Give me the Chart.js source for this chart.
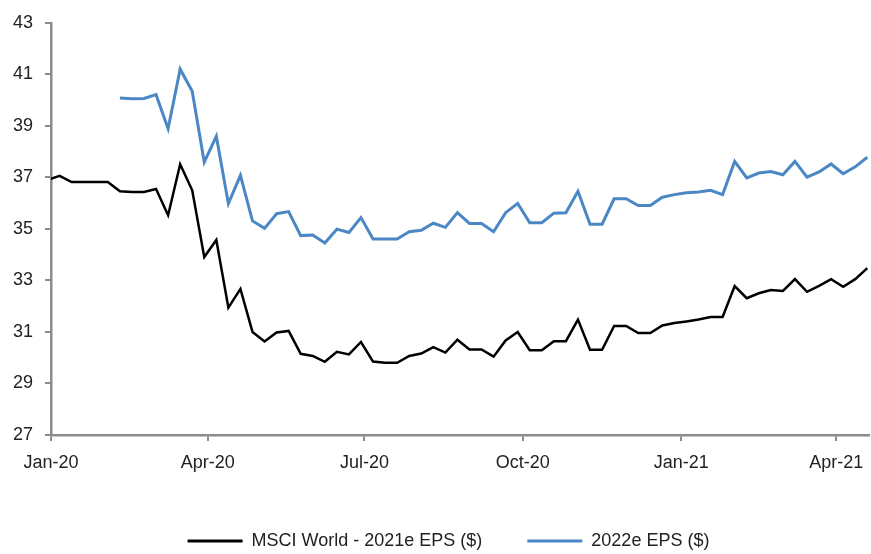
<!DOCTYPE html>
<html><head><meta charset="utf-8">
<script src="https://cdn.jsdelivr.net/npm/chart.js@4.4.1/dist/chart.umd.min.js"></script>
<style>html,body{margin:0;padding:0;background:#fff;}#wrap{width:871px;height:554px;}</style>
</head><body><div id="wrap"><canvas id="c" width="871" height="554"></canvas></div>
<script>
const weekDates = [
'2019-12-30','2020-01-06','2020-01-13','2020-01-20','2020-01-27','2020-02-03','2020-02-10','2020-02-17','2020-02-24',
'2020-03-02','2020-03-09','2020-03-16','2020-03-23','2020-03-30','2020-04-06','2020-04-13','2020-04-20','2020-04-27',
'2020-05-04','2020-05-11','2020-05-18','2020-05-25','2020-06-01','2020-06-08','2020-06-15','2020-06-22','2020-06-29',
'2020-07-06','2020-07-13','2020-07-20','2020-07-27','2020-08-03','2020-08-10','2020-08-17','2020-08-24','2020-08-31',
'2020-09-07','2020-09-14','2020-09-21','2020-09-28','2020-10-05','2020-10-12','2020-10-19','2020-10-26','2020-11-02',
'2020-11-09','2020-11-16','2020-11-23','2020-11-30','2020-12-07','2020-12-14','2020-12-21','2020-12-28','2021-01-04',
'2021-01-11','2021-01-18','2021-01-25','2021-02-01','2021-02-08','2021-02-15','2021-02-22','2021-03-01','2021-03-08',
'2021-03-15','2021-03-22','2021-03-29','2021-04-05','2021-04-12','2021-04-19'];
const msci2021 = [
36.90,37.06,36.82,36.82,36.82,36.82,36.46,36.43,36.43,36.55,35.53,37.51,36.50,33.91,34.57,31.94,32.67,31.00,
30.63,30.98,31.04,30.15,30.07,29.84,30.23,30.13,30.61,29.85,29.80,29.80,30.07,30.16,30.41,30.20,30.70,30.32,
30.32,30.04,30.67,31.00,30.29,30.29,30.64,30.64,31.48,30.31,30.31,31.23,31.23,30.96,30.96,31.25,31.35,31.41,
31.48,31.58,31.58,32.78,32.31,32.50,32.63,32.59,33.05,32.56,32.79,33.05,32.75,33.05,33.48];
const eps2022 = [
null,null,null,null,null,null,40.08,40.05,40.06,40.21,38.89,41.20,40.34,37.59,38.60,35.98,37.08,35.31,
35.02,35.59,35.67,34.74,34.76,34.45,34.99,34.86,35.44,34.61,34.61,34.61,34.89,34.95,35.22,35.06,35.63,35.21,
35.21,34.89,35.63,35.99,35.24,35.24,35.61,35.63,36.46,35.18,35.18,36.17,36.17,35.91,35.91,36.23,36.33,36.40,
36.43,36.50,36.33,37.62,36.98,37.17,37.23,37.10,37.62,37.01,37.21,37.52,37.14,37.41,37.78];
const seriesNames = ['MSCI World - 2021e EPS ($)', '2022e EPS ($)'];
const tickDates = ['2020-01-01','2020-04-01','2020-07-01','2020-10-01','2021-01-01','2021-04-01'];
const tickLabels = ['Jan-20','Apr-20','Jul-20','Oct-20','Jan-21','Apr-21'];
const yMin = 27, yMax = 43, yStep = 2;

const origin = Date.parse('2020-01-01');
const dayOf = s => Math.round((Date.parse(s) - origin) / 86400000);
const xs = weekDates.map(dayOf);
const tickDays = tickDates.map(dayOf);
const labelByDay = {};
tickDays.forEach((d, i) => labelByDay[d] = tickLabels[i]);

const FONT = "'Liberation Sans',Arial,sans-serif";
const AXIS = '#8c8c8c';
const BLUE = '#4a87c4';

const legendFit = {
  id: 'legendFit',
  beforeInit(chart) {
    const orig = chart.legend.fit;
    chart.legend.fit = function () { orig.call(this); this.height = 67; };
  },
  afterLayout(chart) {
    const l = chart.legend;
    l.left += 14; l.right += 14;
  }
};

new Chart(document.getElementById('c'), {
  type: 'line',
  data: {
    datasets: [
      { label: seriesNames[0], data: xs.map((x, i) => ({ x, y: msci2021[i] })), borderColor: '#000', backgroundColor: '#000', borderWidth: 2.5, pointRadius: 0, tension: 0 },
      { label: seriesNames[1], data: xs.map((x, i) => ({ x, y: eps2022[i] })), borderColor: BLUE, backgroundColor: BLUE, borderWidth: 3, pointRadius: 0, tension: 0, spanGaps: false }
    ]
  },
  options: {
    responsive: false,
    animation: false,
    devicePixelRatio: 1,
    layout: { padding: { top: 18, right: 2, left: 0, bottom: 0 } },
    plugins: {
      tooltip: { enabled: false },
      legend: {
        position: 'bottom',
        labels: {
          font: { family: FONT, size: 18 },
          color: '#222',
          boxWidth: 55,
          boxHeight: 3,
          padding: 45,
          generateLabels: (chart) => chart.data.datasets.map((ds, i) => ({
            text: ds.label, fillStyle: ds.borderColor, strokeStyle: ds.borderColor,
            lineWidth: 0, datasetIndex: i, hidden: false, fontColor: '#222'
          }))
        }
      }
    },
    scales: {
      x: {
        type: 'linear',
        min: 0,
        max: xs[xs.length - 1] + 1,
        afterBuildTicks: (scale) => { scale.ticks = tickDays.map(v => ({ value: v })); },
        afterFit: (scale) => { scale.height = 52; scale.paddingRight = 0; scale.paddingLeft = 0; },
        ticks: {
          autoSkip: false, maxRotation: 0, padding: 11,
          font: { family: FONT, size: 18 }, color: '#222',
          callback: (v) => labelByDay[v] || ''
        },
        grid: { display: true, drawOnChartArea: false, drawTicks: true, tickLength: 6, color: AXIS, lineWidth: 2 },
        border: { display: true, color: AXIS, width: 2.5 }
      },
      y: {
        min: yMin, max: yMax,
        afterFit: (scale) => { scale.width = 51; },
        ticks: { stepSize: yStep, padding: 12, font: { family: FONT, size: 18 }, color: '#222' },
        grid: { display: true, drawOnChartArea: false, drawTicks: true, tickLength: 6, color: AXIS, lineWidth: 2 },
        border: { display: true, color: AXIS, width: 2.5 }
      }
    }
  },
  plugins: [legendFit]
});
</script></body></html>
